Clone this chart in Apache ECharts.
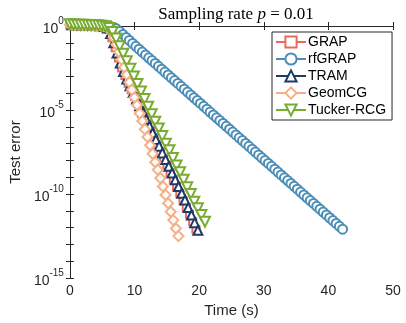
<!DOCTYPE html>
<html>
<head>
<meta charset="utf-8">
<script src="https://cdn.jsdelivr.net/npm/echarts@6/dist/echarts.min.js"></script>
<style>
html, body { margin: 0; padding: 0; background: #fff; }
#chart { width: 406px; height: 323px; }
</style>
</head>
<body>
<div id="chart"></div>
<script>
// time (s) and log10(test error) per method
const grapTime = [0, 0.5, 1, 1.5, 2, 2.5, 3, 3.5, 4, 4.5, 5, 5.5, 6, 6.5, 7, 7.5, 8, 8.5, 9, 9.5, 10, 10.5, 11, 11.5, 12, 12.5, 13, 13.5, 14, 14.5, 15, 15.5, 16, 16.5, 17, 17.5, 18, 18.5, 19, 19.5]
const grapErr = [0.08, 0.07, 0.07, 0.06, 0.06, 0.05, 0.05, 0.04, 0.03, 0.02, 0, -0.05, -0.2, -0.7, -1.3, -1.9, -2.5, -2.95, -3.4, -3.8, -4.2, -4.6, -5.0, -5.4, -5.85, -6.25, -6.65, -7.1, -7.5, -7.9, -8.3, -8.75, -9.15, -9.55, -9.95, -10.4, -10.8, -11.2, -11.65, -12.1]

const rfgrapTime = [0.2, 0.7, 1.2, 1.7, 2.2, 2.7, 3.2, 3.7, 4.2, 4.7, 5.2, 5.7, 6.2, 6.7, 7.2, 7.7, 8.2, 8.7, 9.2, 9.7, 10.2, 10.7, 11.2, 11.7, 12.2, 12.7, 13.2, 13.7, 14.2, 14.7, 15.2, 15.7, 16.2, 16.7, 17.2, 17.7, 18.2, 18.7, 19.2, 19.7, 20.2, 20.7, 21.2, 21.7, 22.2, 22.7, 23.2, 23.7, 24.2, 24.7, 25.2, 25.7, 26.2, 26.7, 27.2, 27.7, 28.2, 28.7, 29.2, 29.7, 30.2, 30.7, 31.2, 31.7, 32.2, 32.7, 33.2, 33.7, 34.2, 34.7, 35.2, 35.7, 36.2, 36.7, 37.2, 37.7, 38.2, 38.7, 39.2, 39.7, 40.2, 40.7, 41.2, 41.7, 42.2]
const rfgrapErr = [0.08, 0.08, 0.07, 0.07, 0.06, 0.06, 0.05, 0.05, 0.04, 0.03, 0.02, 0, -0.02, -0.07, -0.17, -0.32, -0.5, -0.68, -0.86, -1.04, -1.21, -1.38, -1.55, -1.72, -1.89, -2.06, -2.23, -2.4, -2.57, -2.74, -2.91, -3.08, -3.25, -3.42, -3.59, -3.76, -3.93, -4.1, -4.27, -4.44, -4.61, -4.78, -4.95, -5.12, -5.29, -5.46, -5.63, -5.8, -5.97, -6.14, -6.31, -6.48, -6.65, -6.82, -6.99, -7.16, -7.33, -7.5, -7.67, -7.84, -8.01, -8.18, -8.35, -8.52, -8.69, -8.86, -9.03, -9.2, -9.37, -9.54, -9.71, -9.88, -10.05, -10.22, -10.39, -10.56, -10.73, -10.9, -11.07, -11.24, -11.41, -11.58, -11.75, -11.92, -12.09]

const tramTime = [0.3, 0.8, 1.3, 1.8, 2.3, 2.8, 3.3, 3.8, 4.3, 4.8, 5.3, 5.8, 6.3, 6.8, 7.3, 7.8, 8.3, 8.8, 9.3, 9.8, 10.3, 10.8, 11.3, 11.8, 12.3, 12.8, 13.3, 13.8, 14.3, 14.8, 15.3, 15.8, 16.3, 16.8, 17.3, 17.8, 18.3, 18.8, 19.3, 19.8]
const tramErr = [0.08, 0.07, 0.07, 0.06, 0.06, 0.05, 0.05, 0.04, 0.03, 0.01, -0.03, -0.12, -0.45, -1.0, -1.6, -2.2, -2.7, -3.15, -3.55, -3.95, -4.35, -4.75, -5.15, -5.55, -5.95, -6.35, -6.75, -7.15, -7.55, -7.95, -8.35, -8.75, -9.15, -9.55, -9.95, -10.35, -10.8, -11.25, -11.7, -12.15]

const geomTime = [0, 0.4, 0.8, 1.2, 1.6, 2.0, 2.4, 2.8, 3.2, 3.6, 4.0, 4.4, 4.8, 5.2, 5.6, 6.0, 6.4, 6.8, 7.2, 7.6, 8.0, 8.4, 8.8, 9.2, 9.6, 10.0, 10.4, 10.8, 11.2, 11.6, 12.0, 12.4, 12.8, 13.2, 13.6, 14.0, 14.4, 14.8, 15.2, 15.6, 16.0, 16.4, 16.8]
const geomErr = [0.08, 0.08, 0.07, 0.07, 0.06, 0.06, 0.05, 0.05, 0.05, 0.04, 0.04, 0.03, 0.02, 0, -0.05, -0.15, -0.35, -0.7, -1.1, -1.55, -2.0, -2.45, -2.9, -3.35, -3.8, -4.25, -4.7, -5.2, -5.65, -6.15, -6.6, -7.1, -7.6, -8.1, -8.55, -9.05, -9.55, -10.05, -10.55, -11.05, -11.55, -12.05, -12.5]

const tuckerTime = [0, 0.55, 1.1, 1.65, 2.2, 2.75, 3.3, 3.85, 4.4, 4.95, 5.5, 6.05, 6.6, 7.15, 7.7, 8.25, 8.8, 9.35, 9.9, 10.45, 11.0, 11.55, 12.1, 12.65, 13.2, 13.75, 14.3, 14.85, 15.4, 15.95, 16.5, 17.05, 17.6, 18.15, 18.7, 19.25, 19.8, 20.35, 20.9]
const tuckerErr = [0.1, 0.09, 0.08, 0.08, 0.07, 0.06, 0.05, 0.05, 0.04, 0.02, -0.02, -0.12, -0.35, -0.75, -1.2, -1.65, -2.1, -2.55, -3.0, -3.45, -3.9, -4.35, -4.8, -5.25, -5.7, -6.1, -6.55, -7.0, -7.4, -7.85, -8.3, -8.7, -9.15, -9.6, -10.0, -10.45, -10.85, -11.25, -11.65]

const xTicks = [0, 10, 20, 30, 40, 50]
const yExponents = [-15, -10, -5, 0]

const axisColor = '#262626'
const font = 'Liberation Sans, Arial, sans-serif'

const pairs = (t, e) => t.map((v, i) => [v, e[i]])

const makeSeries = (name, t, e, color, symbol, size, rotate) => ({
  name,
  type: 'line',
  data: pairs(t, e),
  symbol,
  symbolSize: size,
  symbolRotate: rotate || 0,
  showAllSymbol: true,
  clip: false,
  lineStyle: { color, width: 1.5 },
  itemStyle: { color, borderColor: color, borderWidth: 1.4 },
  emphasis: { disabled: true }
})

const chart = echarts.init(document.getElementById('chart'), null, { renderer: 'canvas' })

const option = {
  animation: false,
  backgroundColor: '#fff',
  title: {
    text: '{n|Sampling rate }{i|p}{n| = 0.01}',
    left: 231,
    textAlign: 'center',
    top: 1,
    textStyle: {
      fontWeight: 'normal',
      rich: {
        n: { fontFamily: 'Liberation Serif, serif', fontSize: 17, fontWeight: 'normal', color: '#000' },
        i: { fontFamily: 'Liberation Serif, serif', fontSize: 17, fontWeight: 'normal', fontStyle: 'italic', color: '#000' }
      }
    }
  },
  grid: { left: 68, right: 13, top: 26, bottom: 43, containLabel: false },
  legend: {
    orient: 'vertical',
    left: 272,
    top: 32,
    padding: [3, 6, 3, 3],
    itemGap: 3,
    itemWidth: 30,
    itemHeight: 14,
    borderColor: axisColor,
    borderWidth: 1,
    backgroundColor: '#fff',
    textStyle: { fontFamily: font, fontSize: 14, color: '#000', padding: [0, 0, 0, -3] },
    data: ['GRAP', 'rfGRAP', 'TRAM', 'GeomCG', 'Tucker-RCG']
  },
  xAxis: [
    {
      type: 'value', min: 0, max: 50, interval: 10,
      name: 'Time (s)', nameLocation: 'middle', nameGap: 23,
      nameTextStyle: { fontFamily: font, fontSize: 15, color: axisColor },
      axisLine: { lineStyle: { color: axisColor, width: 1 } },
      axisTick: { inside: true, length: 4, lineStyle: { color: axisColor } },
      axisLabel: {
        fontFamily: font, fontSize: 14, color: axisColor, margin: 6,
        formatter: v => xTicks.includes(v) ? String(v) : ''
      },
      splitLine: { show: false }
    },
    {
      type: 'value', min: 0, max: 50, interval: 10, position: 'top',
      axisLine: { lineStyle: { color: axisColor, width: 1 } },
      axisTick: { inside: true, length: 4, lineStyle: { color: axisColor } },
      axisLabel: { show: false },
      splitLine: { show: false }
    }
  ],
  yAxis: [
    {
      type: 'value', min: -15, max: 0, interval: 1,
      name: 'Test error', nameLocation: 'middle', nameGap: 44, nameRotate: 90,
      nameTextStyle: { fontFamily: font, fontSize: 15, color: axisColor },
      axisLine: { lineStyle: { color: axisColor, width: 1 } },
      axisTick: { inside: true, length: 4, lineStyle: { color: axisColor } },
      axisLabel: {
        margin: 6,
        formatter: v => yExponents.includes(v) ? '{b|10}{s|' + v + '}' : '',
        rich: {
          b: { fontFamily: font, fontSize: 14, color: axisColor, verticalAlign: 'bottom', lineHeight: 20 },
          s: { fontFamily: font, fontSize: 10, color: axisColor, verticalAlign: 'top', lineHeight: 20 }
        }
      },
      splitLine: { show: false }
    },
    {
      type: 'value', min: -15, max: 0, interval: 1, position: 'right',
      axisLine: { lineStyle: { color: axisColor, width: 1 } },
      axisTick: { inside: true, length: 4, lineStyle: { color: axisColor } },
      axisLabel: { show: false },
      splitLine: { show: false }
    }
  ],
  series: [
    makeSeries('GRAP', grapTime, grapErr, '#ec6a5c', 'emptyRect', 7),
    makeSeries('rfGRAP', rfgrapTime, rfgrapErr, '#4a8db6', 'emptyCircle', 9),
    makeSeries('TRAM', tramTime, tramErr, '#1f3a68', 'emptyTriangle', 9),
    makeSeries('GeomCG', geomTime, geomErr, '#f6b085', 'emptyDiamond', 10),
    makeSeries('Tucker-RCG', tuckerTime, tuckerErr, '#77ac30', 'emptyTriangle', 10, 180)
  ]
}

chart.setOption(option)
</script>
</body>
</html>
